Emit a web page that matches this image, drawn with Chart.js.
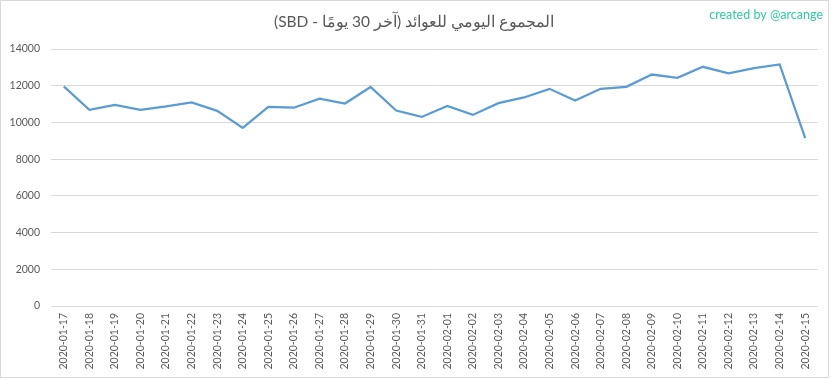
<!DOCTYPE html>
<html>
<head>
<meta charset="utf-8">
<script src="https://cdn.jsdelivr.net/npm/chart.js@4/dist/chart.umd.min.js"></script>
<style>
html,body{margin:0;padding:0;background:#fff;}
#wrap{position:relative;width:833px;height:379px;}
</style>
</head>
<body>
<div id="wrap"><canvas id="c" width="833" height="379"></canvas></div>
<script>
const titleText = "المجموع اليومي للعوائد (آخر 30 يومًا - SBD)";
const creditText = "created by @arcange";
const categories = ["2020-01-17","2020-01-18","2020-01-19","2020-01-20","2020-01-21","2020-01-22","2020-01-23","2020-01-24","2020-01-25","2020-01-26","2020-01-27","2020-01-28","2020-01-29","2020-01-30","2020-01-31","2020-02-01","2020-02-02","2020-02-03","2020-02-04","2020-02-05","2020-02-06","2020-02-07","2020-02-08","2020-02-09","2020-02-10","2020-02-11","2020-02-12","2020-02-13","2020-02-14","2020-02-15"];
const dailyTotal = [11960,10690,10960,10690,10870,11090,10630,9700,10850,10800,11290,11030,11930,10650,10300,10900,10410,11050,11360,11830,11190,11830,11940,12610,12430,13030,12670,12960,13160,9140];
const yTicks = [0,2000,4000,6000,8000,10000,12000,14000];

const FONT = "Lato, 'Liberation Sans', sans-serif";

const decor = {
  id: 'decor',
  afterDraw(chart) {
    const ctx = chart.ctx;
    ctx.save();
    ctx.strokeStyle = '#d9d9d9';
    ctx.lineWidth = 1;
    ctx.strokeRect(0.5, 0.5, 828, 377);
    ctx.fillStyle = '#595959';
    ctx.font = "15.5px " + FONT;
    ctx.textAlign = 'center';
    ctx.textBaseline = 'middle';
    ctx.direction = 'rtl';
    ctx.fillText(titleText, 414, 22);
    ctx.direction = 'ltr';
    ctx.fillStyle = '#30cca0';
    ctx.font = "12.5px " + FONT;
    ctx.textAlign = 'right';
    ctx.fillText(creditText, 823, 15);
    ctx.restore();
  }
};

new Chart(document.getElementById('c'), {
  type: 'line',
  data: {
    labels: categories,
    datasets: [{
      data: dailyTotal,
      borderColor: '#5b9bd5',
      borderWidth: 2.25,
      pointRadius: 0,
      tension: 0,
      fill: false
    }]
  },
  options: {
    responsive: false,
    animation: false,
    devicePixelRatio: 1,
    layout: { padding: { top: 49, right: 15, left: 0, bottom: 0 } },
    plugins: { legend: { display: false }, title: { display: false }, tooltip: { enabled: false } },
    scales: {
      x: {
        offset: true,
        grid: { display: false, drawTicks: false },
        border: { display: false },
        ticks: {
          autoSkip: false, maxRotation: 90, minRotation: 90, padding: 7,
          color: '#595959', font: { family: FONT, size: 10.5 }
        },
        afterFit(scale) { scale.height = 73; }
      },
      y: {
        min: 0, max: 14000,
        afterBuildTicks(scale) { scale.ticks = yTicks.map(v => ({ value: v })); },
        grid: { color: '#d9d9d9', lineWidth: 1, drawTicks: false },
        border: { display: false },
        ticks: { padding: 11, color: '#595959', font: { family: FONT, size: 10.5 }, callback: v => String(v) },
        afterFit(scale) { scale.width = 51; }
      }
    }
  },
  plugins: [decor]
});
</script>
</body>
</html>
